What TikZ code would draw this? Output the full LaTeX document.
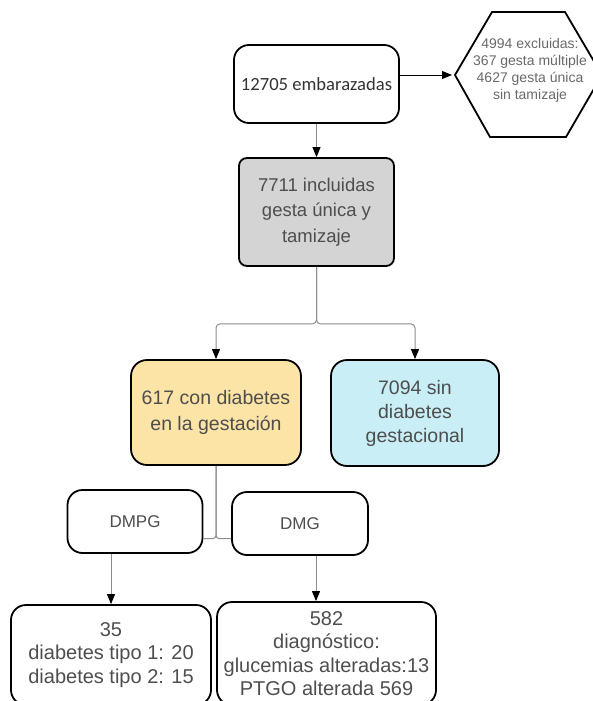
\documentclass[tikz,border=0pt]{standalone}
\usepackage{fontspec}
\setmainfont{Liberation Sans}
\newfontfamily\calibrifont{Carlito}
\usetikzlibrary{arrows.meta}
\definecolor{inclgray}{HTML}{D4D4D4}
\definecolor{conorange}{HTML}{FCE3A6}
\definecolor{sinblue}{HTML}{C9EEF6}
\definecolor{txtgray}{HTML}{4E4E4E}
\definecolor{linegray}{HTML}{8C8C8C}
\tikzset{
  fcbox/.style={draw=black, line width=1.8pt, rounded corners=15pt, align=center,
    text=txtgray, inner sep=0pt},
  fcline/.style={draw=linegray, line width=1pt},
  fcarrow/.style={fcline, -{Triangle[length=10pt,width=8pt,black]}},
}
\begin{document}
\begin{tikzpicture}[x=1pt,y=-1pt]
% flujo de embarazadas, coordenadas en px de la figura
\useasboundingbox (0,0) rectangle (593,701);
\node[fcbox, minimum width=165pt, minimum height=78pt, text=black!80,
  font=\calibrifont\fontsize{18.6}{22}\selectfont] (embar) at (316.5,84) {12705 embarazadas};
\draw[line width=1.8pt, line join=miter] (455,75) -- (492,12) -- (565,12) -- (602,75)
  -- (566,137) -- (490,137) -- cycle;
\coordinate (excl) at (455,75);
\node[align=center, text=txtgray!85, font=\fontsize{14}{17}\selectfont] (excltxt) at (530,70)
  {4994 excluidas:\\367 gesta múltiple\\4627 gesta única\\sin tamizaje};
\node[fcbox, fill=inclgray, rounded corners=8pt, minimum width=155pt, minimum height=108pt,
  font=\fontsize{18.5}{25.5}\selectfont] (incl) at (316.5,212)
  {7711 incluidas\\gesta única y\\tamizaje};
\node[fcbox, fill=conorange, rounded corners=16pt, minimum width=170pt, minimum height=105pt,
  font=\fontsize{19.5}{26}\selectfont] (con) at (216,412.5) {617 con diabetes\\en la gestación};
\node[fcbox, fill=sinblue, rounded corners=16pt, minimum width=168pt, minimum height=106pt,
  font=\fontsize{19.5}{24}\selectfont] (sin) at (415,413) {7094 sin\\diabetes\\gestacional};
\node[fcbox, minimum width=135pt, minimum height=63pt,
  font=\fontsize{17}{20}\selectfont] (dmpg) at (135,521.5) {DMPG};
\node[fcbox, minimum width=136pt, minimum height=63pt,
  font=\fontsize{17}{20}\selectfont] (dmg) at (300,523.5) {DMG};
\node[fcbox, minimum width=200pt, minimum height=100pt,
  font=\fontsize{20}{23.5}\selectfont] (dmpgn) at (111,655)
  {35\\diabetes tipo 1: 20\\diabetes tipo 2: 15};
\node[fcbox, minimum width=219pt, minimum height=103pt,
  font=\fontsize{20}{23.5}\selectfont] (dmgn) at (326.5,653.5)
  {582\\diagnóstico:\\glucemias alteradas:13\\PTGO alterada 569};
\draw[fcarrow, draw=black, shorten >=3pt] (embar.east |- excl) -- (excl);
\draw[fcarrow] (embar) -- (incl);
\draw[fcarrow, rounded corners=4pt] (incl.south) -- ++(0,57) -| (con.north);
\draw[fcarrow, rounded corners=4pt] (incl.south) -- ++(0,57) -| (sin.north);
\draw[fcline, rounded corners=3pt] (con.south) |- ([yshift=-17pt]dmpg.east);
\draw[fcline, rounded corners=3pt] (con.south) |- ([yshift=-15pt]dmg.west);
\draw[fcarrow] (dmpgn.north |- dmpg.south) -- (dmpgn.north);
\draw[fcarrow] ([xshift=16pt]dmg.south) -- ([xshift=16pt]dmg.south |- dmgn.north);
\end{tikzpicture}
\end{document}
